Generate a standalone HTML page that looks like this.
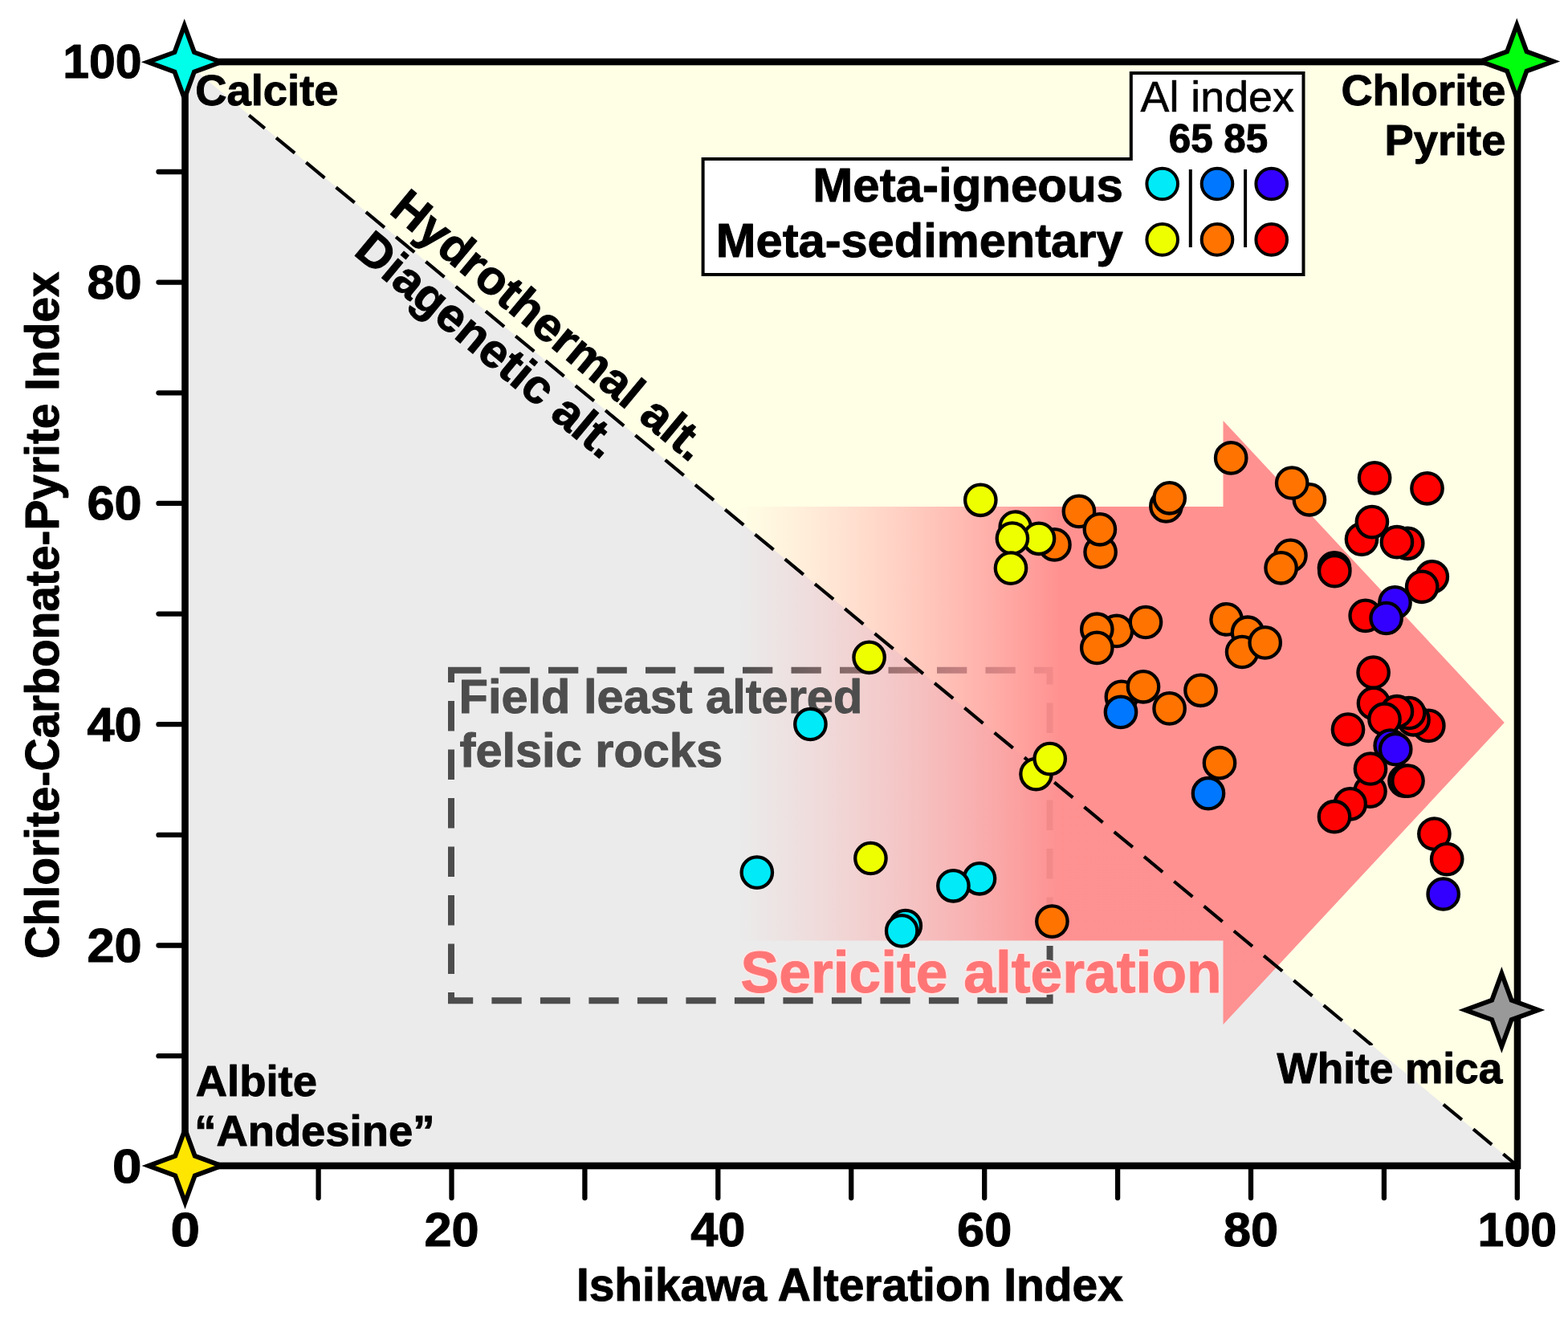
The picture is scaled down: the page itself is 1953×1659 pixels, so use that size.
<!DOCTYPE html>
<html><head><meta charset="utf-8"><title>Ishikawa Alteration Index vs CCPI</title>
<style>html,body{margin:0;padding:0;background:#fff;width:1953px;height:1659px;overflow:hidden}svg{display:block}
text{font-family:"Liberation Sans",Arial,Helvetica,sans-serif;font-weight:bold}</style></head><body>
<svg width="1953" height="1659" viewBox="0 0 1953 1659">
<defs><linearGradient id="ag" gradientUnits="userSpaceOnUse" x1="918" y1="0" x2="1320" y2="0">
<stop offset="0" stop-color="#FFB0B0" stop-opacity="0"/><stop offset="1" stop-color="#FF8D8D" stop-opacity="0.96"/></linearGradient>

</defs>
<rect width="1953" height="1659" fill="#fff"/>

<rect x="230.5" y="77.0" width="1659.5" height="1375.0" fill="#FFFFE6"/>
<polygon points="230.5,77.0 230.5,1452.0 1890.0,1452.0" fill="#EBEBEB"/>
<path d="M562,834.7 H1307.6 V1246.2 H562 Z" stroke="#4D4D4D" stroke-width="8" fill="none" stroke-dasharray="37.3 23.2"/>
<polygon points="922,631 1523.5,631 1523.5,524 1873.8,900 1523.5,1276 1523.5,1171.5 922,1171.5" fill="url(#ag)"/>
<mask id="dm"><rect width="1953" height="1659" fill="#fff"/><rect x="1586" y="1302" width="292" height="68.5" fill="#000"/><rect x="240" y="85" width="185" height="56" fill="#000"/></mask>
<line x1="310.2" y1="143.6" x2="1887.0" y2="1449.5" stroke="#000" stroke-width="4.2" stroke-dasharray="30 18.4" stroke-dashoffset="4.5" mask="url(#dm)"/>
<text stroke="#4D4D4D" stroke-width="1" stroke-linejoin="round" x="571.6" y="887.6" font-size="59.5" fill="#4D4D4D">Field least altered</text>
<text stroke="#4D4D4D" stroke-width="1" stroke-linejoin="round" x="572.6" y="955.2" font-size="59.5" fill="#4D4D4D">felsic rocks</text>
<text x="922.6" y="1235.7" font-size="73" fill="none" stroke="#FFE6E6" stroke-width="4.6" stroke-linejoin="round" textLength="599" lengthAdjust="spacingAndGlyphs">Sericite alteration</text>
<text stroke="#FF7575" stroke-width="1" stroke-linejoin="round" x="922.6" y="1235.7" font-size="73" fill="#FF7575" textLength="599" lengthAdjust="spacingAndGlyphs">Sericite alteration</text>
<text stroke="#000" stroke-width="1" stroke-linejoin="round" transform="translate(483.3,264.3) rotate(39.68)" font-size="59.5">Hydrothermal alt.</text>
<text stroke="#000" stroke-width="1" stroke-linejoin="round" transform="translate(439.1,316.0) rotate(39.68)" font-size="59.5">Diagenetic alt.</text>
<text stroke="#000" stroke-width="1" stroke-linejoin="round" x="243.2" y="131.3" font-size="54.4">Calcite</text>
<text stroke="#000" stroke-width="1" stroke-linejoin="round" x="1875.5" y="131.2" font-size="54.3" text-anchor="end">Chlorite</text>
<text stroke="#000" stroke-width="1" stroke-linejoin="round" x="1875.4" y="192.8" font-size="54.3" text-anchor="end">Pyrite</text>
<text stroke="#000" stroke-width="1" stroke-linejoin="round" x="243.8" y="1365.4" font-size="54.4">Albite</text>
<text stroke="#000" stroke-width="1" stroke-linejoin="round" x="242.2" y="1426.6" font-size="54.4">“Andesine”</text>
<text stroke="#000" stroke-width="1" stroke-linejoin="round" x="1590.5" y="1349" font-size="53.2">White mica</text>
<polygon points="875.6,198 1408.8,198 1408.8,91 1623.5,91 1623.5,342 875.6,342" fill="#fff" stroke="#000" stroke-width="4"/>
<text stroke="#000" stroke-width="0.6" stroke-linejoin="round" x="1516.2" y="138.6" font-size="53.8" font-weight="normal" text-anchor="middle" style="font-weight:normal">Al index</text>
<text stroke="#000" stroke-width="1" stroke-linejoin="round" x="1517.5" y="189.8" font-size="49.3" text-anchor="middle">65 85</text>
<text stroke="#000" stroke-width="1" stroke-linejoin="round" x="1399" y="250.5" font-size="60" text-anchor="end">Meta-igneous</text>
<text stroke="#000" stroke-width="1" stroke-linejoin="round" x="1398.6" y="319.5" font-size="59.6" text-anchor="end">Meta-sedimentary</text>
<g stroke="#000" stroke-width="4"><line x1="1482.8" y1="211" x2="1482.8" y2="308"/><line x1="1551.1" y1="211" x2="1551.1" y2="308"/></g>
<circle cx="1447.7" cy="229.0" r="19.3" fill="#00EAF8" stroke="#000" stroke-width="4"/>
<circle cx="1516.0" cy="229.0" r="19.3" fill="#0077FF" stroke="#000" stroke-width="4"/>
<circle cx="1583.7" cy="229.0" r="19.3" fill="#3300FF" stroke="#000" stroke-width="4"/>
<circle cx="1447.7" cy="298.4" r="19.3" fill="#EEFF00" stroke="#000" stroke-width="4"/>
<circle cx="1516.0" cy="298.4" r="19.3" fill="#FF7300" stroke="#000" stroke-width="4"/>
<circle cx="1583.7" cy="298.4" r="19.3" fill="#FF0000" stroke="#000" stroke-width="4"/>
<g stroke="#000" stroke-width="4.3">
<circle cx="942.8" cy="1086.6" r="19.2" fill="#00EAF8"/>
<circle cx="1009.4" cy="902.0" r="19.2" fill="#00EAF8"/>
<circle cx="1082.6" cy="818.8" r="19.2" fill="#EEFF00"/>
<circle cx="1084.4" cy="1069.0" r="19.2" fill="#EEFF00"/>
<circle cx="1127.8" cy="1153.0" r="19.2" fill="#00EAF8"/>
<circle cx="1123.2" cy="1159.4" r="19.2" fill="#00EAF8"/>
<circle cx="1220.0" cy="1094.3" r="19.2" fill="#00EAF8"/>
<circle cx="1187.4" cy="1103.3" r="19.2" fill="#00EAF8"/>
<circle cx="1290.5" cy="964.1" r="19.2" fill="#EEFF00"/>
<circle cx="1307.7" cy="945.1" r="19.2" fill="#EEFF00"/>
<circle cx="1310.4" cy="1147.6" r="19.2" fill="#FF7300"/>
<circle cx="1221.3" cy="622.8" r="19.2" fill="#EEFF00"/>
<circle cx="1313.4" cy="678.4" r="19.2" fill="#FF7300"/>
<circle cx="1264.7" cy="656.5" r="19.2" fill="#EEFF00"/>
<circle cx="1294.0" cy="670.8" r="19.2" fill="#EEFF00"/>
<circle cx="1260.9" cy="670.5" r="19.2" fill="#EEFF00"/>
<circle cx="1259.0" cy="707.6" r="19.2" fill="#EEFF00"/>
<circle cx="1343.9" cy="636.9" r="19.2" fill="#FF7300"/>
<circle cx="1370.6" cy="687.5" r="19.2" fill="#FF7300"/>
<circle cx="1369.9" cy="659.3" r="19.2" fill="#FF7300"/>
<circle cx="1452.4" cy="630.4" r="19.2" fill="#FF7300"/>
<circle cx="1456.7" cy="620.3" r="19.2" fill="#FF7300"/>
<circle cx="1390.9" cy="785.9" r="19.2" fill="#FF7300"/>
<circle cx="1366.3" cy="783.7" r="19.2" fill="#FF7300"/>
<circle cx="1427.0" cy="775.0" r="19.2" fill="#FF7300"/>
<circle cx="1366.3" cy="806.9" r="19.2" fill="#FF7300"/>
<circle cx="1396.9" cy="867.9" r="19.2" fill="#FF7300"/>
<circle cx="1424.0" cy="855.3" r="19.2" fill="#FF7300"/>
<circle cx="1396.0" cy="886.9" r="19.2" fill="#0077FF"/>
<circle cx="1456.6" cy="882.4" r="19.2" fill="#FF7300"/>
<circle cx="1495.5" cy="859.8" r="19.2" fill="#FF7300"/>
<circle cx="1519.0" cy="950.2" r="19.2" fill="#FF7300"/>
<circle cx="1505.0" cy="988.2" r="19.2" fill="#0077FF"/>
<circle cx="1533.2" cy="570.4" r="19.2" fill="#FF7300"/>
<circle cx="1630.9" cy="622.3" r="19.2" fill="#FF7300"/>
<circle cx="1609.2" cy="601.5" r="19.2" fill="#FF7300"/>
<circle cx="1607.4" cy="691.9" r="19.2" fill="#FF7300"/>
<circle cx="1595.6" cy="707.3" r="19.2" fill="#FF7300"/>
<circle cx="1527.6" cy="771.4" r="19.2" fill="#FF7300"/>
<circle cx="1554.0" cy="787.7" r="19.2" fill="#FF7300"/>
<circle cx="1547.1" cy="812.0" r="19.2" fill="#FF7300"/>
<circle cx="1575.7" cy="800.4" r="19.2" fill="#FF7300"/>
<circle cx="1712.1" cy="595.3" r="19.2" fill="#FF0000"/>
<circle cx="1777.5" cy="608.3" r="19.2" fill="#FF0000"/>
<circle cx="1696.0" cy="671.6" r="19.2" fill="#FF0000"/>
<circle cx="1708.9" cy="650.1" r="19.2" fill="#FF0000"/>
<circle cx="1753.2" cy="676.8" r="19.2" fill="#FF0000"/>
<circle cx="1739.9" cy="675.2" r="19.2" fill="#FF0000"/>
<circle cx="1662.0" cy="707.3" r="19.2" fill="#FF0000"/>
<circle cx="1662.3" cy="711.2" r="19.2" fill="#FF0000"/>
<circle cx="1783.8" cy="718.3" r="19.2" fill="#FF0000"/>
<circle cx="1771.2" cy="730.8" r="19.2" fill="#FF0000"/>
<circle cx="1700.7" cy="766.9" r="19.2" fill="#FF0000"/>
<circle cx="1737.5" cy="750.4" r="19.2" fill="#3300FF"/>
<circle cx="1726.6" cy="770.0" r="19.2" fill="#3300FF"/>
<circle cx="1710.6" cy="837.5" r="19.2" fill="#FF0000"/>
<circle cx="1711.0" cy="876.0" r="19.2" fill="#FF0000"/>
<circle cx="1779.3" cy="903.9" r="19.2" fill="#FF0000"/>
<circle cx="1760.5" cy="896.3" r="19.2" fill="#FF0000"/>
<circle cx="1755.1" cy="888.0" r="19.2" fill="#FF0000"/>
<circle cx="1739.9" cy="886.2" r="19.2" fill="#FF0000"/>
<circle cx="1724.5" cy="895.7" r="19.2" fill="#FF0000"/>
<circle cx="1679.0" cy="908.5" r="19.2" fill="#FF0000"/>
<circle cx="1731.7" cy="928.6" r="19.2" fill="#3300FF"/>
<circle cx="1738.2" cy="933.2" r="19.2" fill="#3300FF"/>
<circle cx="1706.5" cy="985.6" r="19.2" fill="#FF0000"/>
<circle cx="1681.7" cy="1001.4" r="19.2" fill="#FF0000"/>
<circle cx="1662.0" cy="1017.2" r="19.2" fill="#FF0000"/>
<circle cx="1707.0" cy="957.5" r="19.2" fill="#FF0000"/>
<circle cx="1749.5" cy="972.6" r="19.2" fill="#FF0000"/>
<circle cx="1753.5" cy="972.6" r="19.2" fill="#FF0000"/>
<circle cx="1786.4" cy="1038.6" r="19.2" fill="#FF0000"/>
<circle cx="1802.2" cy="1070.1" r="19.2" fill="#FF0000"/>
<circle cx="1797.7" cy="1113.5" r="19.2" fill="#3300FF"/>
</g>
<g stroke="#000" stroke-linecap="round" stroke-width="6.3">
<line x1="197.5" y1="1315.2" x2="230.5" y2="1315.2"/>
<line x1="197.5" y1="1177.5" x2="230.5" y2="1177.5"/>
<line x1="197.5" y1="1039.9" x2="230.5" y2="1039.9"/>
<line x1="197.5" y1="902.2" x2="230.5" y2="902.2"/>
<line x1="197.5" y1="764.6" x2="230.5" y2="764.6"/>
<line x1="197.5" y1="626.9" x2="230.5" y2="626.9"/>
<line x1="197.5" y1="489.3" x2="230.5" y2="489.3"/>
<line x1="197.5" y1="351.6" x2="230.5" y2="351.6"/>
<line x1="197.5" y1="214.0" x2="230.5" y2="214.0"/>
<line x1="396.6" y1="1452.0" x2="396.6" y2="1492"/>
<line x1="562.5" y1="1452.0" x2="562.5" y2="1492"/>
<line x1="728.4" y1="1452.0" x2="728.4" y2="1492"/>
<line x1="894.3" y1="1452.0" x2="894.3" y2="1492"/>
<line x1="1060.2" y1="1452.0" x2="1060.2" y2="1492"/>
<line x1="1226.2" y1="1452.0" x2="1226.2" y2="1492"/>
<line x1="1392.1" y1="1452.0" x2="1392.1" y2="1492"/>
<line x1="1558.0" y1="1452.0" x2="1558.0" y2="1492"/>
<line x1="1723.9" y1="1452.0" x2="1723.9" y2="1492"/>
<line x1="1889.8" y1="1452.0" x2="1889.8" y2="1492"/>
</g>
<rect x="230.5" y="77.0" width="1659.5" height="1375.0" fill="none" stroke="#000" stroke-width="8.6"/>
<polygon points="1870.4,1212.4 1882.6,1245.7 1915.9,1257.9 1882.6,1270.1 1870.4,1303.4 1858.2,1270.1 1824.9,1257.9 1858.2,1245.7" fill="#999999" stroke="#000" stroke-width="5.8"/>
<polygon points="229.7,31.8 241.9,65.1 275.2,77.3 241.9,89.5 229.7,122.8 217.5,89.5 184.2,77.3 217.5,65.1" fill="#00FFEA" stroke="#000" stroke-width="5.8"/>
<polygon points="1889.3,30.9 1901.5,64.2 1934.8,76.4 1901.5,88.6 1889.3,121.9 1877.1,88.6 1843.8,76.4 1877.1,64.2" fill="#00FF0C" stroke="#000" stroke-width="5.8"/>
<polygon points="230.5,1406.5 242.7,1439.8 276.0,1452.0 242.7,1464.2 230.5,1497.5 218.3,1464.2 185.0,1452.0 218.3,1439.8" fill="#FFE600" stroke="#000" stroke-width="5.8"/>
<text stroke="#000" stroke-width="1" stroke-linejoin="round" x="176.6" y="1473.3" font-size="59" text-anchor="end" textLength="36.5" lengthAdjust="spacingAndGlyphs">0</text>
<text stroke="#000" stroke-width="1" stroke-linejoin="round" x="176.6" y="1198.0" font-size="59" text-anchor="end" textLength="68.2" lengthAdjust="spacingAndGlyphs">20</text>
<text stroke="#000" stroke-width="1" stroke-linejoin="round" x="176.6" y="922.7" font-size="59" text-anchor="end" textLength="68.2" lengthAdjust="spacingAndGlyphs">40</text>
<text stroke="#000" stroke-width="1" stroke-linejoin="round" x="176.6" y="647.4" font-size="59" text-anchor="end" textLength="68.2" lengthAdjust="spacingAndGlyphs">60</text>
<text stroke="#000" stroke-width="1" stroke-linejoin="round" x="176.6" y="372.1" font-size="59" text-anchor="end" textLength="68.2" lengthAdjust="spacingAndGlyphs">80</text>
<text stroke="#000" stroke-width="1" stroke-linejoin="round" x="176.6" y="96.8" font-size="59" text-anchor="end" textLength="98.4" lengthAdjust="spacingAndGlyphs">100</text>
<text stroke="#000" stroke-width="1" stroke-linejoin="round" x="230.7" y="1551.5" font-size="59" text-anchor="middle" textLength="36.5" lengthAdjust="spacingAndGlyphs">0</text>
<text stroke="#000" stroke-width="1" stroke-linejoin="round" x="562.5" y="1551.5" font-size="59" text-anchor="middle" textLength="68.2" lengthAdjust="spacingAndGlyphs">20</text>
<text stroke="#000" stroke-width="1" stroke-linejoin="round" x="894.3" y="1551.5" font-size="59" text-anchor="middle" textLength="68.2" lengthAdjust="spacingAndGlyphs">40</text>
<text stroke="#000" stroke-width="1" stroke-linejoin="round" x="1226.2" y="1551.5" font-size="59" text-anchor="middle" textLength="68.2" lengthAdjust="spacingAndGlyphs">60</text>
<text stroke="#000" stroke-width="1" stroke-linejoin="round" x="1558.0" y="1551.5" font-size="59" text-anchor="middle" textLength="68.2" lengthAdjust="spacingAndGlyphs">80</text>
<text stroke="#000" stroke-width="1" stroke-linejoin="round" x="1889.8" y="1551.5" font-size="59" text-anchor="middle" textLength="98.4" lengthAdjust="spacingAndGlyphs">100</text>
<text stroke="#000" stroke-width="1" stroke-linejoin="round" x="717.9" y="1620" font-size="58" textLength="681" lengthAdjust="spacingAndGlyphs">Ishikawa Alteration Index</text>
<text stroke="#000" stroke-width="1" stroke-linejoin="round" transform="translate(73.2,1194.3) rotate(-90)" font-size="60" textLength="856" lengthAdjust="spacingAndGlyphs">Chlorite-Carbonate-Pyrite Index</text>
</svg></body></html>
